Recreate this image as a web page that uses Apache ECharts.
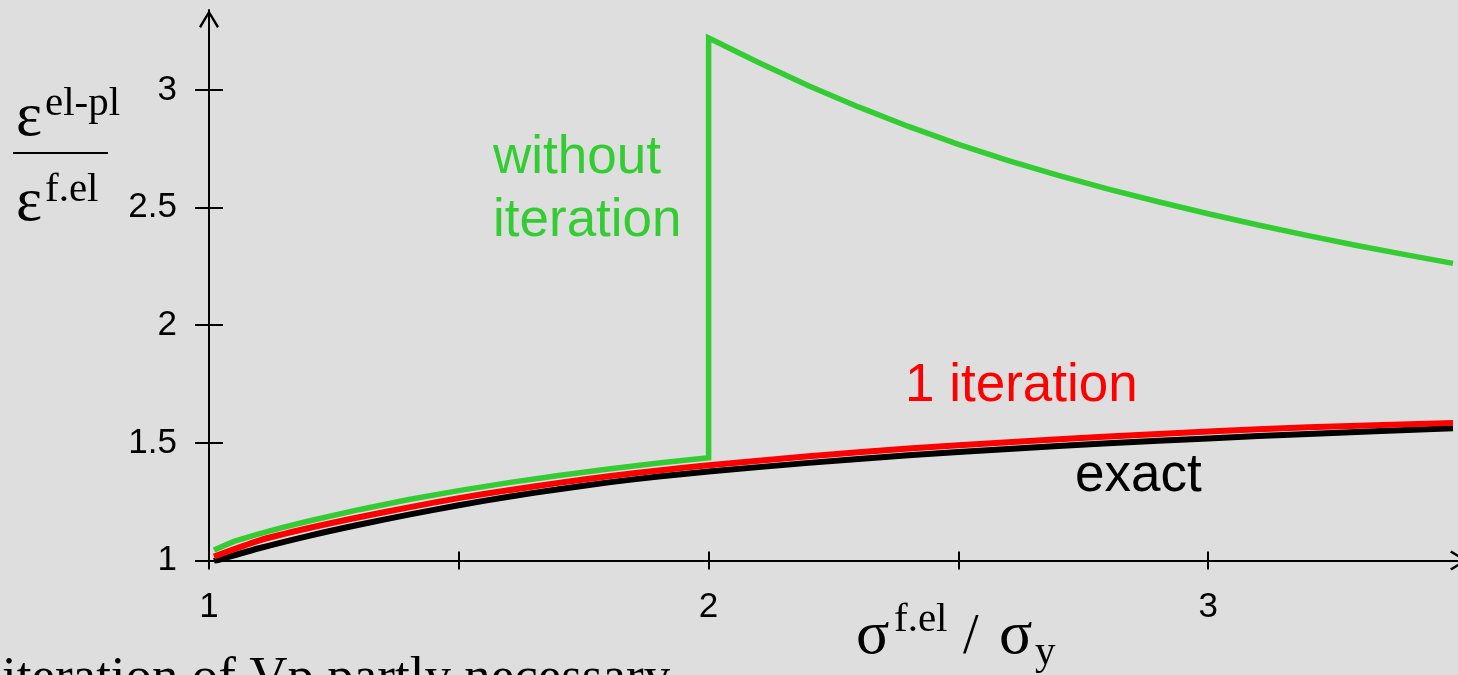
<!DOCTYPE html>
<html>
<head>
<meta charset="utf-8">
<script src="https://cdn.jsdelivr.net/npm/echarts@6/dist/echarts.min.js"></script>
<style>
html,body{margin:0;padding:0;background:#dedede;}
#c{width:1458px;height:675px;}
</style>
</head>
<body>
<div id="c"></div>
<script>
// ---- data ----
const exactX = [1.01, 1.1, 1.2, 1.3, 1.4, 1.5, 1.6, 1.7, 1.8, 1.9, 2.0, 2.2, 2.4, 2.6, 2.8, 3.0, 3.2, 3.49];
const exactY = [0.997, 1.052, 1.105, 1.152, 1.195, 1.235, 1.271, 1.303, 1.332, 1.357, 1.378, 1.415, 1.447, 1.474, 1.498, 1.519, 1.538, 1.562];

const oneIterX = [1.01, 1.1, 1.2, 1.3, 1.4, 1.5, 1.6, 1.7, 1.8, 1.9, 2.0, 2.2, 2.4, 2.6, 2.8, 3.0, 3.2, 3.49];
const oneIterY = [1.017, 1.085, 1.138, 1.184, 1.226, 1.265, 1.299, 1.330, 1.358, 1.383, 1.405, 1.443, 1.476, 1.503, 1.527, 1.548, 1.566, 1.585];

const noIterX = [1.01, 1.05, 1.1, 1.15, 1.2, 1.3, 1.4, 1.5, 1.6, 1.7, 1.8, 1.9, 2.0,
                 2.0, 2.1, 2.2, 2.3, 2.4, 2.5, 2.6, 2.7, 2.8, 2.9, 3.0, 3.1, 3.2, 3.3, 3.4, 3.49];
const noIterY = [1.045, 1.081, 1.113, 1.142, 1.168, 1.216, 1.259, 1.297, 1.331, 1.361, 1.389, 1.414, 1.437,
                 3.221, 3.117, 3.018, 2.928, 2.845, 2.769, 2.700, 2.637, 2.579, 2.525, 2.474, 2.426, 2.381, 2.338, 2.298, 2.263];

const xTicks = [1, 1.5, 2, 2.5, 3];
const xTickLabels = [1, 2, 3];
const yTicks = [1, 1.5, 2, 2.5, 3];
const yTickLabels = [1, 1.5, 2, 2.5, 3];

const zip = (xs, ys) => xs.map((x, i) => [x, ys[i]]);

const SANS = '"Liberation Sans", Arial, sans-serif';
const SERIF = '"Liberation Serif", "Times New Roman", serif';
const arrow = 'path://M10,0 L20,16.4 L18,18 L10,4.6 L2,18 L0,16.4 Z';

const chart = echarts.init(document.getElementById('c'), null, {renderer: 'canvas'});

const baseX = {
  type: 'value', min: 1, max: 3.5, gridIndex: 0, position: 'bottom',
  splitLine: {show: false}
};
const baseY = {
  type: 'value', min: 1, max: 3.34, gridIndex: 0, position: 'left',
  splitLine: {show: false}
};
const tickStyle = {color: '#000', width: 2};

chart.setOption({
  backgroundColor: '#dedede',
  animation: false,
  grid: {left: 209, right: -6, top: 10, bottom: 114.5, containLabel: false},
  xAxis: [
    Object.assign({}, baseX, {
      axisLine: {show: true, lineStyle: {color: '#000', width: 2},
        symbol: ['none', arrow], symbolSize: [20, 18], symbolOffset: [0, 1]},
      axisTick: {show: true, inside: false, length: 9, lineStyle: tickStyle, customValues: xTicks},
      axisLabel: {show: true, margin: 29, color: '#000', fontSize: 35, fontFamily: SANS, customValues: xTickLabels}
    }),
    Object.assign({}, baseX, {
      axisLine: {show: false},
      axisTick: {show: true, inside: true, length: 9, lineStyle: tickStyle, customValues: xTicks},
      axisLabel: {show: false}
    })
  ],
  yAxis: [
    Object.assign({}, baseY, {
      axisLine: {show: true, lineStyle: {color: '#000', width: 2},
        symbol: ['none', arrow], symbolSize: [20, 18], symbolOffset: [0, -9]},
      axisTick: {show: true, inside: false, length: 14, lineStyle: tickStyle, customValues: yTicks},
      axisLabel: {show: true, margin: 32, color: '#000', fontSize: 35, fontFamily: SANS, customValues: yTickLabels}
    }),
    Object.assign({}, baseY, {
      axisLine: {show: false},
      axisTick: {show: true, inside: true, length: 14, lineStyle: tickStyle, customValues: yTicks},
      axisLabel: {show: false}
    })
  ],
  series: [
    {name: 'exact', type: 'line', data: zip(exactX, exactY), showSymbol: false, symbol: 'none', smooth: 0.25,
     lineStyle: {color: '#000000', width: 6}, z: 3},
    {name: '1 iteration', type: 'line', data: zip(oneIterX, oneIterY), showSymbol: false, symbol: 'none', smooth: 0.25,
     lineStyle: {color: '#ff0000', width: 6}, z: 4},
    {name: 'without iteration', type: 'line', data: zip(noIterX, noIterY), showSymbol: false, symbol: 'none',
     lineStyle: {color: '#33cc33', width: 5.5, join: 'miter'}, z: 5}
  ],
  graphic: [
    {type: 'text', style: {text: 'without', x: 493, y: 158, font: '53px ' + SANS, fill: '#33cc33', textVerticalAlign: 'middle'}},
    {type: 'text', style: {text: 'iteration', x: 493, y: 221, font: '53px ' + SANS, fill: '#33cc33', textVerticalAlign: 'middle'}},
    {type: 'text', style: {text: '1 iteration', x: 905, y: 386, font: '53px ' + SANS, fill: '#ff0000', textVerticalAlign: 'middle'}},
    {type: 'text', style: {text: 'exact', x: 1075, y: 476, font: '53px ' + SANS, fill: '#000', textVerticalAlign: 'middle'}},
    // y-axis title (fraction)
    {type: 'text', style: {text: 'ε', x: 16, y: 119, font: '62px ' + SERIF, fill: '#000', textVerticalAlign: 'middle'}},
    {type: 'text', style: {text: 'el-pl', x: 45, y: 104, font: '41px ' + SERIF, fill: '#000', textVerticalAlign: 'middle'}},
    {type: 'rect', shape: {x: 13, y: 152, width: 95, height: 2}, style: {fill: '#000'}},
    {type: 'text', style: {text: 'ε', x: 16, y: 204, font: '62px ' + SERIF, fill: '#000', textVerticalAlign: 'middle'}},
    {type: 'text', style: {text: 'f.el', x: 45, y: 190, font: '41px ' + SERIF, fill: '#000', textVerticalAlign: 'middle'}},
    // x-axis title
    {type: 'text', style: {text: 'σ', x: 856, y: 637, font: '62px ' + SERIF, fill: '#000', textVerticalAlign: 'middle'}},
    {type: 'text', style: {text: 'f.el', x: 894, y: 620, font: '41px ' + SERIF, fill: '#000', textVerticalAlign: 'middle'}},
    {type: 'text', style: {text: '/', x: 963, y: 638, font: '56px ' + SERIF, fill: '#000', textVerticalAlign: 'middle'}},
    {type: 'text', style: {text: 'σ', x: 999, y: 637, font: '62px ' + SERIF, fill: '#000', textVerticalAlign: 'middle'}},
    {type: 'text', style: {text: 'y', x: 1035, y: 653, font: '41px ' + SERIF, fill: '#000', textVerticalAlign: 'middle'}},
    // cut-off slide text at the bottom
    {type: 'text', style: {text: 'iteration of Vp partly necessary', x: 2, y: 679, font: '53px ' + SERIF, fill: '#000', textVerticalAlign: 'middle'}}
  ]
});
</script>
</body>
</html>
